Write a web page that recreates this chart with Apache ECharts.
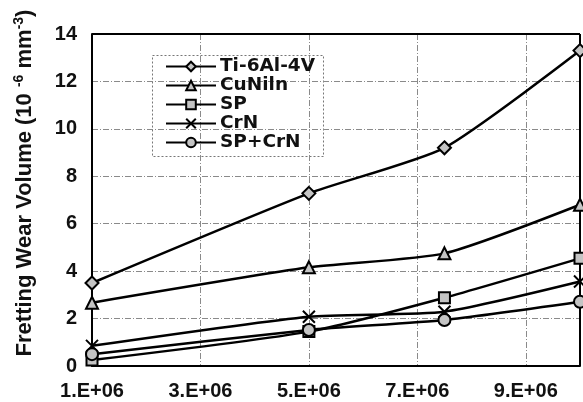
<!DOCTYPE html>
<html>
<head>
<meta charset="utf-8">
<script src="https://cdn.jsdelivr.net/npm/echarts@6/dist/echarts.min.js"></script>
<style>
html,body{margin:0;padding:0;background:#fff;}
#c{width:583px;height:402px;}
</style>
</head>
<body>
<div id="c"></div>
<script>
var cycles = [1e6, 5e6, 7.5e6, 1e7];
var seriesNames = ['Ti-6Al-4V', 'CuNiln', 'SP', 'CrN', 'SP+CrN'];
var ti = [3.5, 7.28, 9.2, 13.3];
var cuniin = [2.67, 4.16, 4.75, 6.8];
var sp = [0.25, 1.45, 2.88, 4.54];
var crn = [0.85, 2.08, 2.29, 3.56];
var spcrn = [0.5, 1.52, 1.94, 2.71];
var yTicks = [0, 2, 4, 6, 8, 10, 12, 14];

var values = [ti, cuniin, sp, crn, spcrn];
var symbols = ['diamond', 'triangle', 'rect', 'path://M0,0L10,10M10,0L0,10', 'circle'];
var sizes = [13, 12, 11, 12, 12];

function pairs(v){ return cycles.map(function(x,i){ return [x, v[i]]; }); }

var chart = echarts.init(document.getElementById('c'));
var gridStyle = {color:'#8a8a8a', width:1, type:[6,2,1,2]};
var FONT = 'Liberation Sans, Arial';
chart.setOption({
  animation:false,
  backgroundColor:'#fff',
  grid:{left:92, top:34, right:3, bottom:36, containLabel:false, outerBoundsMode:'none', show:false},
  xAxis:{
    type:'value', min:1e6, max:1e7, interval:2e6,
    axisLine:{show:true, lineStyle:{color:'#000', width:2}},
    axisTick:{show:false},
    splitLine:{show:true, lineStyle:gridStyle},
    axisLabel:{
      margin:15, showMaxLabel:false,
      color:'#111', fontFamily:FONT, fontWeight:'bold', fontSize:20,
      formatter:function(v){ return Math.round(v/1e6) + '.E+06'; }
    }
  },
  yAxis:{
    type:'value', min:0, max:14, interval:2,
    axisLine:{show:true, lineStyle:{color:'#000', width:2}},
    axisTick:{show:false},
    splitLine:{show:true, lineStyle:gridStyle},
    axisLabel:{
      margin:15, color:'#111', fontFamily:FONT, fontWeight:'bold', fontSize:20,
      formatter:function(v){ return yTicks.indexOf(v) >= 0 ? String(v) : ''; }
    }
  },
  legend:{
    orient:'vertical', left:165, top:57, padding:0, itemGap:0,
    itemWidth:50, itemHeight:12,
    data:seriesNames,
    textStyle:{fontFamily:'DejaVu Sans', fontWeight:'bold', fontSize:18.5, color:'#111', lineHeight:18.3, padding:[0,0,0,-1]}
  },
  graphic:[
    {type:'rect', shape:{x:152.5, y:55.5, width:171, height:101}, style:{fill:'none', stroke:'#777', lineWidth:1, lineDash:[2,2]}, z:0},
    {type:'line', shape:{x1:92, y1:34, x2:580, y2:34}, style:{stroke:'#000', lineWidth:2}, z:10},
    {type:'line', shape:{x1:580, y1:34, x2:580, y2:366}, style:{stroke:'#000', lineWidth:2}, z:10},
    {type:'text', x:25, y:183, rotation:Math.PI/2, z:10,
     style:{
       text:'{a|Fretting Wear Volume (10 }{s|-6}{a| mm}{s|-3}{a|)}',
       align:'center', verticalAlign:'middle',
       rich:{
         a:{fontFamily:FONT, fontWeight:'bold', fontSize:22, fill:'#111', lineHeight:26},
         s:{fontFamily:FONT, fontWeight:'bold', fontSize:14, fill:'#111', verticalAlign:'top', lineHeight:26}
       }
     }}
  ],
  series: values.map(function(v, i){
    return {
      name:seriesNames[i], type:'line', data:pairs(v), smooth:0.2, clip:false,
      symbol:symbols[i], symbolSize:sizes[i], showSymbol:true,
      lineStyle:{color:'#000', width:2.5},
      itemStyle:{color: i===3 ? 'rgba(0,0,0,0)' : '#c4c4c4', borderColor:'#000', borderWidth:2},
      z:20
    };
  })
});
</script>
</body>
</html>
